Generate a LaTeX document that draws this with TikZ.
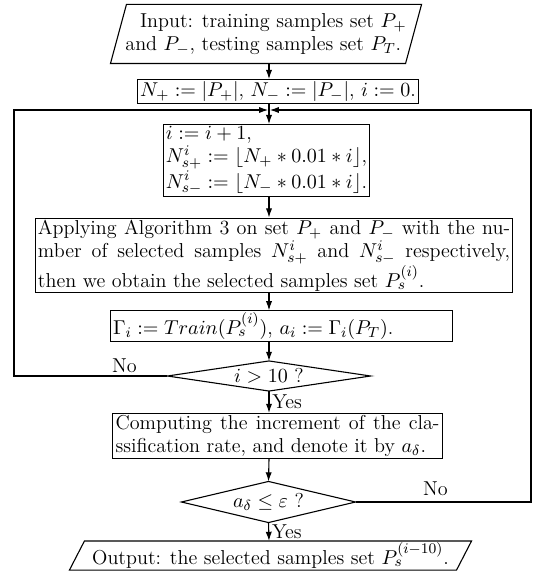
\documentclass[tikz,border=0pt]{standalone}
\usetikzlibrary{arrows.meta,calc}
\begin{document}
\begin{tikzpicture}[x=0.5464pt,y=-0.5464pt,line width=0.6pt,
  every node/.style={font=\fontsize{11}{12.6}\selectfont},
  box/.style={draw,rectangle,inner xsep=1.5pt,inner ysep=1pt},
  frame/.style={rectangle,inner sep=0pt},
  arr/.style={-{Latex[length=5pt,width=3.4pt]}},
  lbl/.style={inner sep=1.5pt}]
\useasboundingbox (0,0) rectangle (533,576);
\coordinate (cx) at (269,0);
\coordinate (L) at (14,0);
\coordinate (R) at (531,0);
\coordinate (j) at (269,110);
% input
\node[frame,minimum width=310*0.5464pt,minimum height=58*0.5464pt,align=left] (in) at (266,34)
  {\hspace*{8pt}Input: training samples set $P_+$\\and $P_-$, testing samples set $P_T$.};
\draw ($(in.north west)+(16,0)$) -- (in.north east) -- ($(in.south east)+(-16,0)$) -- (in.south west) -- cycle;
% init
\node[box] (init) at (278,91.5) {$N_+ := |P_+|$, $N_- := |P_-|$, $i := 0$.};
% b3
\node[box,align=left] (b3) at (266.5,160.5)
  {$i := i+1$,\\$N^i_{s+} := \lfloor N_+ * 0.01 * i\rfloor$,\\$N^i_{s-} := \lfloor N_- * 0.01 * i\rfloor$.};
% b4
\node[box,text width=258pt,align=justify] (b4) at (274,255.5)
  {Applying Algorithm 3 on set $P_+$ and $P_-$ with the nu-\linebreak mber of selected samples $N^i_{s+}$ and $N^i_{s-}$ respectively,\linebreak then we obtain the selected samples set $P_s^{(i)}$.};
% b5
\node[box,text width=184pt,align=left] (b5) at (281.5,326)
  {$\Gamma_i := Train(P_s^{(i)})$, $a_i := \Gamma_i(P_T)$.};
% d1
\node[frame,minimum width=202*0.5464pt,minimum height=29*0.5464pt] (d1) at (269,376) {$i > 10$ ?};
\draw (d1.north) -- (d1.east) -- (d1.south) -- (d1.west) -- cycle;
% b6
\node[box,text width=177pt,align=justify] (b6) at (277.5,436)
  {Computing the increment of the cla-\linebreak ssification rate, and denote it by $a_\delta$.};
% d2
\node[frame,minimum width=173*0.5464pt,minimum height=40*0.5464pt] (d2) at (268.5,502) {$a_\delta \le \varepsilon$ ?};
\draw (d2.north) -- (d2.east) -- (d2.south) -- (d2.west) -- cycle;
% output
\node[frame,minimum width=401*0.5464pt,minimum height=28*0.5464pt] (out) at (270.5,555.5)
  {Output: the selected samples set $P_s^{(i-10)}$.};
\draw ($(out.north west)+(15,0)$) -- (out.north east) -- ($(out.south east)+(-15,0)$) -- (out.south west) -- cycle;
% connectors
\draw[arr] (in.south -| cx) -- (init.north -| cx);
\draw (init.south -| cx) -- (j);
\draw[arr] (j) -- (b3.north -| cx);
\draw[arr] (b3.south -| cx) -- (b4.north -| cx);
\draw[arr] (b4.south -| cx) -- (b5.north -| cx);
\draw[arr] (b5.south -| cx) -- (d1.north);
\draw[arr] (d1.south) -- (b6.north -| cx) node[lbl,right,midway] (y1) {Yes};
\draw[arr] (b6.south -| cx) -- (d2.north);
\draw[arr] (d2.south) -- (out.north -| cx) node[lbl,right,midway] (y2) {Yes};
\draw[arr] (d1.west) -- (d1.west -| L) -- (j -| L) -- ($(j)+(-0.8,0)$);
\draw[arr] (d2.east) -- (d2.east -| R) -- (j -| R) -- ($(j)+(0.8,0)$);
\node[lbl] (no1) at (124.5,366) {No};
\node[lbl] (no2) at (435.5,489) {No};
\end{tikzpicture}
\end{document}
